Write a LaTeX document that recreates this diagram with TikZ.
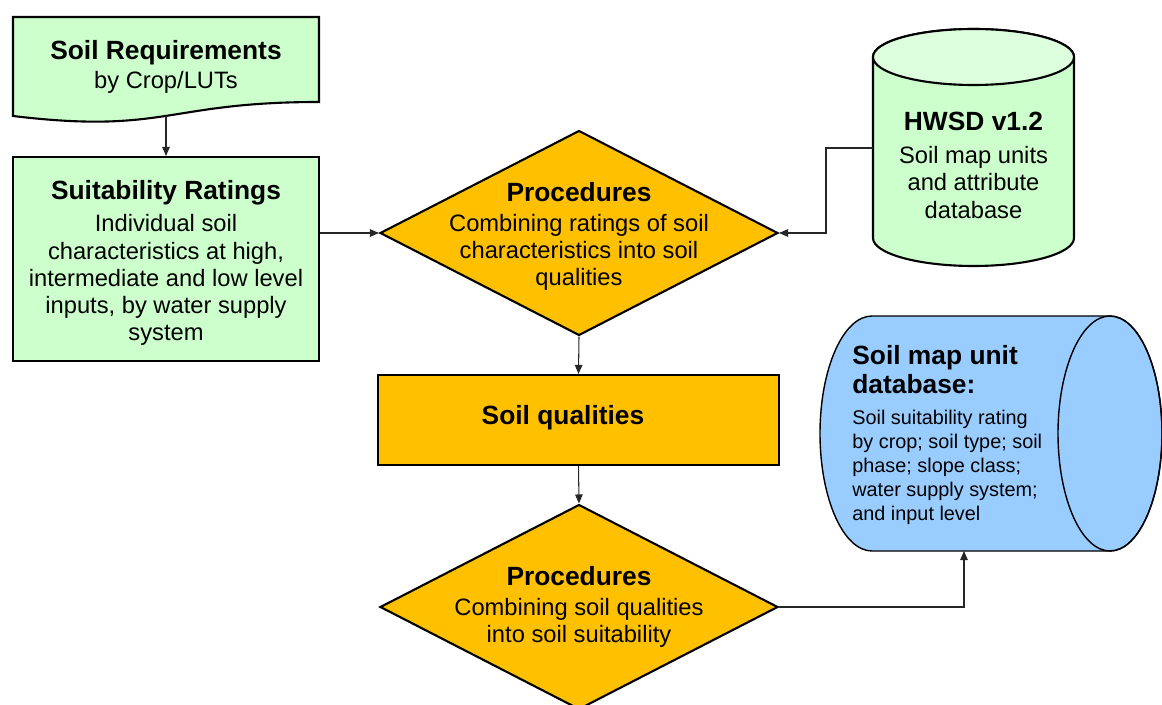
\documentclass[tikz,border=0pt]{standalone}
\usepackage{fontspec}
\setmainfont{Liberation Sans}
\usetikzlibrary{arrows.meta,positioning,shapes.geometric}
\definecolor{reqgreen}{RGB}{204,255,204}
\definecolor{dbgreen}{RGB}{221,255,221}
\definecolor{procorange}{RGB}{255,192,0}
\definecolor{dbblue}{RGB}{153,204,255}
\newcommand{\boxtitle}[1]{{\fontsize{15}{17}\selectfont\bfseries #1}}

\begin{document}
\begin{tikzpicture}[x=0.02cm,y=0.02cm,
    font=\fontsize{13.5}{15.4}\selectfont,
    shapeline/.style={line width=1.2pt,draw=black},
    ratingbox/.style={shapeline,fill=reqgreen,rectangle,minimum width=6.12cm,minimum height=4.08cm},
    procshape/.style={shapeline,fill=procorange,diamond,minimum width=7.96cm,minimum height=4.1cm,inner sep=0pt},
    qualbox/.style={shapeline,fill=procorange,rectangle,minimum width=8.02cm,minimum height=1.8cm},
    conn/.style={line width=0.6pt,black!85,-{Triangle[length=1.8mm,width=1.5mm]}}]
  \useasboundingbox (0,0) rectangle (1162,704);
  \clip (0,0) rectangle (1162,704);
  % soil requirements, document shape
  \filldraw[shapeline,fill=reqgreen] (13,687) -- (319,687) -- (319,602)
    .. controls (166,602) and (166,569.6) .. (13,588) -- cycle;
  \node[align=center] (reqs) at (166,637.5) {\boxtitle{Soil Requirements}\\[1.1pt]by Crop/LUTs};
  \coordinate (reqsfoot) at (166,588);
  \node[ratingbox] (suit) at (166,445) {};
  \node[align=center] (suittxt) at (166,441) {\boxtitle{Suitability Ratings}\\[2.8pt]Individual soil\\characteristics at high,\\intermediate and low level\\inputs, by water supply\\system};
  % HWSD cylinder
  \filldraw[shapeline,fill=reqgreen] (873,647) -- (873,466)
    arc[start angle=180,end angle=360,x radius=100.5,y radius=28] -- (1074,647)
    arc[start angle=0,end angle=180,x radius=100.5,y radius=28] -- cycle;
  \filldraw[shapeline,fill=dbgreen] (973.5,647) ellipse [x radius=100.5,y radius=28];
  \node[align=center] (hwsd) at (973.5,539) {\boxtitle{HWSD v1.2}\\[3.8pt]Soil map units\\and attribute\\database};
  \coordinate (hwsdport) at (873,556);
  % procedures and qualities
  \node[procshape] (proc1) at (579,471) {};
  \node[align=center] (proc1txt) at (579,468) {\boxtitle{Procedures}\\[1.7pt]Combining ratings of soil\\characteristics into soil\\qualities};
  \node[qualbox] (qual) at (578.5,284) {};
  \node (qualtxt) at (563,286) {\boxtitle{Soil qualities}};
  \node[procshape] (proc2) at (579,97) {};
  \node[align=center] (proc2txt) at (proc2) {\boxtitle{Procedures}\\[1.7pt]Combining soil qualities\\into soil suitability};
  % soil map unit database, lying cylinder
  \filldraw[line width=0.8pt,fill=dbblue] (1110,388) -- (872,388)
    arc[start angle=90,end angle=270,x radius=52,y radius=117.5] -- (1110,153)
    arc[start angle=-90,end angle=90,x radius=52,y radius=117.5] -- cycle;
  \draw[line width=0.8pt] (1110,270.5) ellipse [x radius=52,y radius=117.5];
  \node[align=left,anchor=north west,inner sep=0pt,font=\fontsize{11.3}{13.7}\selectfont] (mapdb) at (852,359)
    {\boxtitle{Soil map unit}\\[1.6pt]\boxtitle{database:}\\[4pt]Soil suitability rating\\by crop; soil type; soil\\phase; slope class;\\water supply system;\\and input level};
  \coordinate (dbfoot) at (964,153);
  % connectors
  \draw[conn] (reqsfoot) -- (suit.north);
  \draw[conn] (suit.east |- proc1.west) -- (proc1.west);
  \draw[conn] (hwsdport) -- ++(-47,0) |- (proc1.east);
  \draw[conn] (proc1.south) -- (qual.north);
  \draw[conn] (qual.south) -- (proc2.north);
  \draw[conn] (proc2.east) -| (dbfoot);
\end{tikzpicture}
\end{document}
